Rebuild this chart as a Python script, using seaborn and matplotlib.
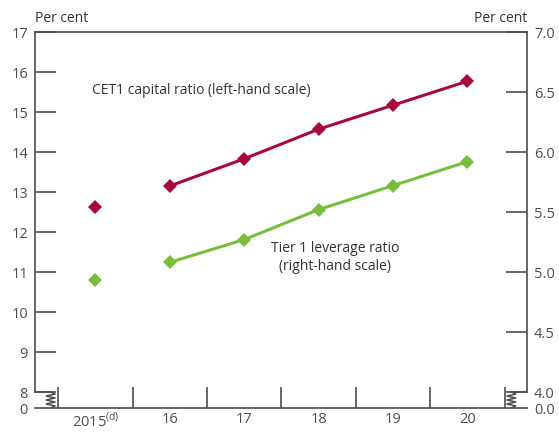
import numpy as np
import pandas as pd
import seaborn as sns
import matplotlib.pyplot as plt

# data
years = ["2015(d)", "16", "17", "18", "19", "20"]
cet1 = [12.62, 13.15, 13.83, 14.57, 15.17, 15.77]      # left-hand scale, per cent
leverage = [4.93, 5.08, 5.27, 5.52, 5.72, 5.92]        # right-hand scale, per cent
left_ticks = [8, 9, 10, 11, 12, 13, 14, 15, 16, 17]
right_ticks = [4.0, 4.5, 5.0, 5.5, 6.0, 6.5, 7.0]

red = "#a6093d"
green = "#78be3c"
grey = "#4d4d4d"

sns.set_style("ticks")
plt.rcParams["font.family"] = ["Open Sans", "DejaVu Sans"]
plt.rcParams["font.size"] = 10.5
plt.rcParams["text.color"] = "#333333"
plt.rcParams["xtick.color"] = grey
plt.rcParams["ytick.color"] = grey

df = pd.DataFrame({"x": np.arange(len(years)), "cet1": cet1, "lev": leverage})

fig = plt.figure(figsize=(5.59, 4.32), dpi=100)
ax = fig.add_axes([35 / 559, 1 - 408 / 432, (527 - 35) / 559, (408 - 32) / 432])
ax2 = ax.twinx()

# the 2015 point stands apart from the projections
first = df.iloc[:1]
rest = df.iloc[1:]
mk = dict(marker="D", markersize=7.5, markeredgewidth=0)
sns.lineplot(data=rest, x="x", y="cet1", ax=ax, color=red, lw=2.2, **mk)
sns.lineplot(data=first, x="x", y="cet1", ax=ax, color=red, **mk)
sns.lineplot(data=rest, x="x", y="lev", ax=ax2, color=green, lw=2.2, **mk)
sns.lineplot(data=first, x="x", y="lev", ax=ax2, color=green, **mk)

# broken scales: 0 sits just below 8 (left) and 4.0 (right)
gap = 0.4
ax.set_ylim(8 - gap, 17)
ax2.set_ylim(4 - gap / 3, 7)
ax.set_xlim(-0.81, 5.8)

ax.set_yticks([8 - gap] + left_ticks)
ax.set_yticklabels(["0"] + [str(t) for t in left_ticks])
ax2.set_yticks([4 - gap / 3] + right_ticks)
ax2.set_yticklabels(["0.0"] + [f"{t:.1f}" for t in right_ticks])

ax.set_xticks(np.arange(len(years)), minor=True)
ax.set_xticklabels(["2015$^{\\mathregular{(d)}}$"] + years[1:], minor=True)
ax.set_xticks(list(np.arange(len(years)) - 0.5) + [5.5])
ax.set_xticklabels([])
ax.tick_params(axis="x", which="major", direction="in", length=15, width=1.2, color=grey)
ax.tick_params(axis="x", which="minor", length=0, pad=3)
ax.tick_params(axis="y", direction="in", length=15, width=1.2, color=grey, pad=5)
ax2.tick_params(axis="y", direction="in", length=15, width=1.2, color=grey, pad=5)
# hide tick marks at the zero labels
ax.yaxis.get_major_ticks()[0].tick1line.set_visible(False)
ax2.yaxis.get_major_ticks()[0].tick2line.set_visible(False)

ax.set_xlabel("")
ax.set_ylabel("")
ax2.set_ylabel("")

for a in (ax, ax2):
    for s in a.spines.values():
        s.set_color(grey)
        s.set_linewidth(1.2)
ax.spines["left"].set_bounds(8, 17)
ax2.spines["left"].set_visible(False)
ax2.spines["right"].set_bounds(4, 7)
ax2.spines["bottom"].set_visible(False)
ax2.spines["top"].set_visible(False)
ax.spines["right"].set_visible(False)

# zigzag break marks
def zigzag(xc, y0, y1, trans):
    ys = np.linspace(y0, y1, 9)
    xs = [xc] + [xc + (0.06 if i % 2 else -0.06) for i in range(1, 8)] + [xc]
    ax.plot(xs, ys, color=grey, lw=1.1, transform=trans, clip_on=False)

tr = ax.transData
ax.plot([-0.81, -0.6], [8, 8], color=grey, lw=1.2, clip_on=False)
zigzag(-0.6, 8, 8 - gap, tr)
ax.plot([5.8, 5.59], [8, 8], color=grey, lw=1.2, clip_on=False)
zigzag(5.59, 8, 8 - gap, tr)

ax.text(1.42, 15.35, "CET1 capital ratio (left-hand scale)", ha="center", va="bottom",
        fontsize=10)
ax.text(3.22, 10.95, "Tier 1 leverage ratio\n(right-hand scale)", ha="center", va="bottom",
        linespacing=1.3, fontsize=10)

fig.text(35 / 559, 1 - 18 / 432, "Per cent", ha="left", va="center", fontsize=10)
fig.text(527 / 559, 1 - 18 / 432, "Per cent", ha="right", va="center", fontsize=10)

fig.savefig("out.png", dpi=100)
